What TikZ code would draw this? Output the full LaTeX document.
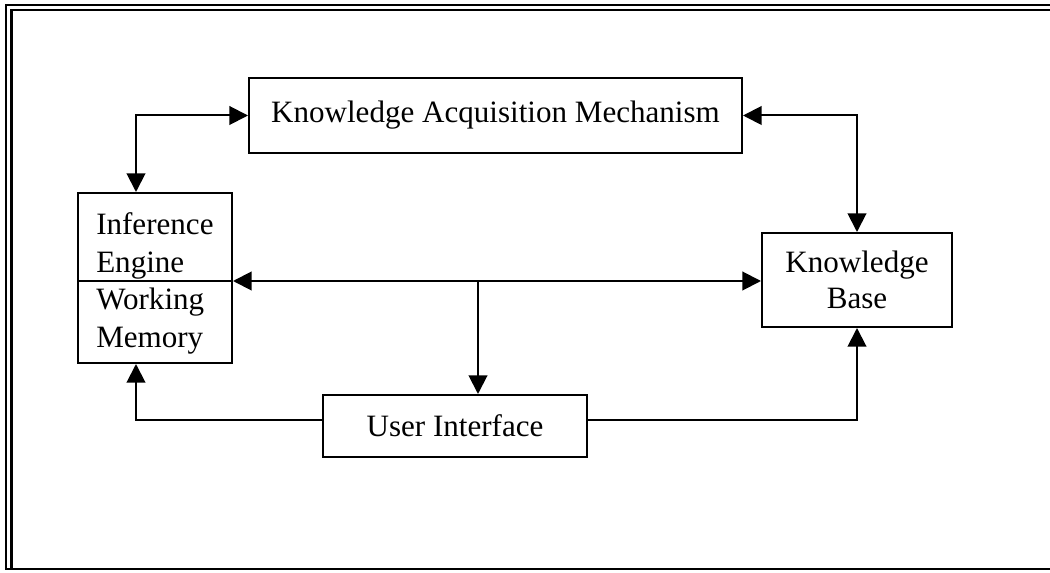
\documentclass[tikz,border=0pt]{standalone}
\usepackage{fontspec}
\setmainfont{Liberation Serif}
\usetikzlibrary{arrows.meta}
\begin{document}
\begin{tikzpicture}[x=0.75pt,y=-0.75pt,
  box/.style={draw, line width=1.5pt, inner sep=0pt, font=\fontsize{23.3}{27}\selectfont, align=center},
  lbl/.style={inner sep=0pt, font=\fontsize{23.3}{28}\selectfont, align=left},
  conn/.style={line width=1.5pt},
  tip/.style={-{Triangle[length=14pt,width=14pt]}},
  tips/.style={{Triangle[length=14pt,width=14pt]}-{Triangle[length=14pt,width=14pt]}},
  frame/.style={line width=1.7pt}]
\useasboundingbox (0,0) rectangle (1050,573);
% outer frame
\draw[frame] (1050,5) -- (6,5) -- (6,569) -- (1050,569);
\draw[frame] (1050,10) -- (11.5,10) -- (11.5,569);
% boxes
\node[box, minimum width=369.75pt, minimum height=56.25pt] (kam) at (495.5,115.5) {Knowledge Acquisition Mechanism};
\node[box, minimum width=115.5pt, minimum height=127.5pt] (ie) at (155,278) {};
\node[box, minimum width=142.5pt, minimum height=70.5pt] (kb) at (857,280) {Knowledge\\Base};
\node[box, minimum width=198pt, minimum height=46.5pt] (ui) at (455,426) {User Interface};
% inference engine contents
\coordinate (hy) at (0,281);
\draw[conn] (ie.west |- hy) -- (ie.east |- hy);
\node[lbl, anchor=west] (ietop) at (96,246) {Inference\\Engine};
\node[lbl, anchor=west] (iebot) at (96,321) {Working\\Memory};
% connectors
\coordinate (c1) at (136,0);
\coordinate (ly) at (0,420);
\coordinate (br) at (478,281);
\draw[conn,tips] (kam.west) -| (c1 |- ie.north);
\draw[conn,tips] (kam.east) -| (kb.north);
\draw[conn,tips] (ie.east |- hy) -- (kb.west |- hy);
\draw[conn,tip] (br) -- (br |- ui.north);
\draw[conn,tip] (ui.west |- ly) -| (c1 |- ie.south);
\draw[conn,tip] (ui.east |- ly) -| (kb.south);
\end{tikzpicture}
\end{document}
